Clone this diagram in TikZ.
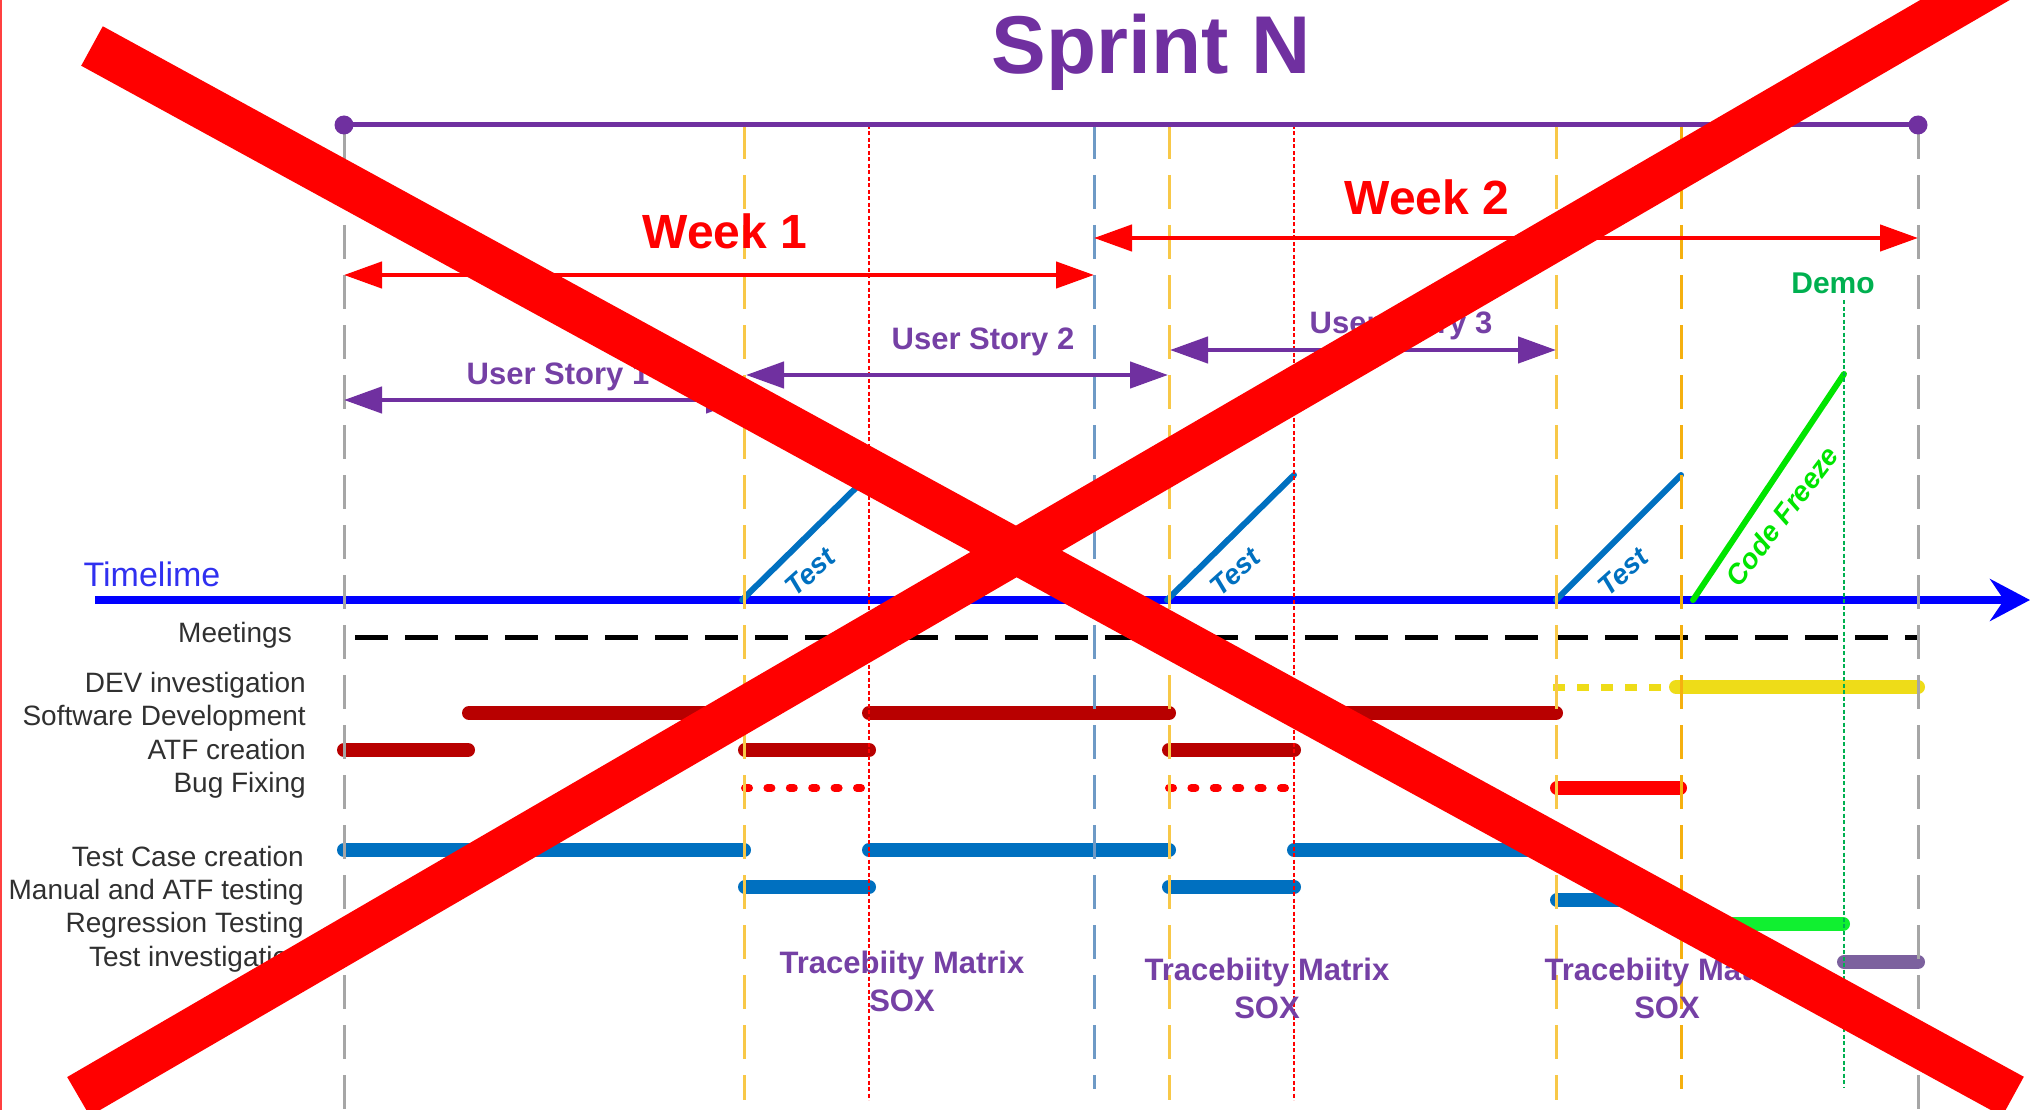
\documentclass[tikz,border=0pt]{standalone}
\usepackage{fontspec}
\setmainfont{Liberation Sans}
\usetikzlibrary{arrows.meta}
\definecolor{purp}{HTML}{7030A0}
\definecolor{lavtxt}{HTML}{7540A5}
\definecolor{grayv}{HTML}{A6A6A6}
\definecolor{yelv}{HTML}{F8C848}
\definecolor{orav}{HTML}{F5B010}
\definecolor{bluev}{HTML}{6E9AC6}
\definecolor{barred}{HTML}{B80000}
\definecolor{barblue}{HTML}{0070C0}
\definecolor{baryel}{HTML}{EEDC18}
\definecolor{bargreen}{HTML}{10F030}
\definecolor{barpurp}{HTML}{7C619E}
\definecolor{demog}{HTML}{00B050}
\definecolor{tlblue}{HTML}{3030F0}
\definecolor{lbl}{HTML}{303030}
\tikzset{
  vdash/.style={line width=3pt,dash pattern=on 34pt off 16pt},
  vdot/.style={line width=1.8pt,dash pattern=on 4pt off 2.5pt},
  bar/.style={line width=14pt,line cap=round},
  bigarrow/.style={line width=4.5pt,{Triangle[length=38pt,width=26pt]}-{Triangle[length=38pt,width=26pt]}},
  rowlabel/.style={anchor=mid east,inner sep=0pt,text=lbl,font=\fontsize{28}{30}\selectfont},
  story/.style={inner sep=0pt,text=lavtxt,font=\bfseries\fontsize{31}{33}\selectfont},
  weektxt/.style={inner sep=0pt,text=red,font=\bfseries\fontsize{48}{50}\selectfont},
  testtxt/.style={inner sep=0pt,text=barblue,rotate=42,font=\bfseries\itshape\fontsize{28}{30}\selectfont},
  slant/.style={line width=6pt,line cap=round},
  cross/.style={line width=45pt,red},
}
\begin{document}
\begin{tikzpicture}[x=1pt,y=-1pt]
\useasboundingbox (0,0) rectangle (2043,1110);
\clip (0,0) rectangle (2043,1110);
% named columns
\coordinate (gL) at (344,125);   \coordinate (gLb) at (344,1110);
\coordinate (y1) at (744,125);   \coordinate (y1b) at (744,1100);
\coordinate (r1) at (869,125);   \coordinate (r1b) at (869,1100);
\coordinate (bm) at (1094,125);  \coordinate (bmb) at (1094,1089);
\coordinate (y2) at (1169,125);  \coordinate (y2b) at (1169,1100);
\coordinate (r2) at (1294,125);  \coordinate (r2b) at (1294,1100);
\coordinate (y3) at (1556,125);  \coordinate (y3b) at (1556,1100);
\coordinate (o3) at (1681,125);  \coordinate (o3b) at (1681,1089);
\coordinate (dm) at (1844,300);  \coordinate (dmb) at (1844,1087);
\coordinate (gR) at (1918,125);  \coordinate (gRb) at (1918,1110);
% left page edge
\draw[line width=2pt,red!75] (1,0) -- (1,1110);
% timeline
\coordinate (tlS) at (95,600); \coordinate (tlE) at (2030,600);
\draw[line width=8pt,blue,-{Stealth[length=40pt,width=42pt,inset=14pt]}] (tlS) -- (tlE);
% slanted lines
\coordinate (t1a) at (742,600);  \coordinate (t1b) at (869,475);
\coordinate (t2a) at (1167,600); \coordinate (t2b) at (1294,475);
\coordinate (t3a) at (1556,600); \coordinate (t3b) at (1681,475);
\coordinate (cfa) at (1693,600); \coordinate (cfb) at (1844,374);
\draw[slant,barblue] (t1a) -- (t1b);
\draw[slant,barblue] (t2a) -- (t2b);
\draw[slant,barblue] (t3a) -- (t3b);
\draw[slant,green!90!black] (cfa) -- (cfb);
% meetings
\coordinate (mS) at (355,637.5); \coordinate (mE) at (1918,637.5);
\draw[line width=5.5pt,black,dash pattern=on 33pt off 17pt] (mS) -- (mE);
% bars
\draw[bar,barred] (469,713) -- (744,713);
\draw[bar,barred] (869,713) -- (1169,713);
\draw[bar,barred] (1294,713) -- (1556,713);
\draw[bar,barred] (344,750) -- (468,750);
\draw[bar,barred] (745,750) -- (869,750);
\draw[bar,barred] (1169,750) -- (1294,750);
\draw[line width=8pt,red,line cap=round,dash pattern=on 4pt off 18.4pt] (745,788) -- (868,788);
\draw[line width=8pt,red,line cap=round,dash pattern=on 4pt off 18.4pt] (1169,788) -- (1292,788);
\draw[bar,red] (1557,788) -- (1680,788);
\draw[line width=7pt,baryel,dash pattern=on 12pt off 12pt] (1553,687) -- (1672,687);
\draw[bar,baryel] (1676,687) -- (1918,687);
\draw[bar,barblue] (344,850) -- (744,850);
\draw[bar,barblue] (869,850) -- (1169,850);
\draw[bar,barblue] (1294,850) -- (1556,850);
\draw[bar,barblue] (745,887) -- (869,887);
\draw[bar,barblue] (1169,887) -- (1294,887);
\draw[bar,barblue] (1557,900) -- (1680,900);
\draw[bar,bargreen] (1681,924) -- (1843,924);
\draw[bar,barpurp] (1844,962) -- (1918,962);
% verticals
\draw[vdash,grayv] (gL) -- (gLb);
\draw[vdash,yelv] (y1) -- (y1b);
\draw[vdot,red] (r1) -- (r1b);
\draw[vdash,bluev] (bm) -- (bmb);
\draw[vdash,yelv] (y2) -- (y2b);
\draw[vdot,red] (r2) -- (r2b);
\draw[vdash,yelv] (y3) -- (y3b);
\draw[vdash,orav] (o3) -- (o3b);
\draw[vdot,demog] (dm) -- (dmb);
\draw[vdash,grayv] (gR) -- (gRb);
% top line
\draw[line width=5pt,purp] (gL) -- (gR);
\fill[purp] (gL) circle (9.5pt);
\fill[purp] (gR) circle (9.5pt);
% arrows
\coordinate (w1a) at (344,275); \coordinate (w1b) at (1094,275);
\coordinate (w2a) at (1094,238); \coordinate (w2b) at (1918,238);
\coordinate (u1a) at (344,400); \coordinate (u1b) at (744,400);
\coordinate (u2a) at (746,375); \coordinate (u2b) at (1168,375);
\coordinate (u3a) at (1170,350); \coordinate (u3b) at (1556,350);
\draw[bigarrow,red] (w1a) -- (w1b);
\draw[bigarrow,red] (w2a) -- (w2b);
\draw[bigarrow,purp] (u1a) -- (u1b);
\draw[bigarrow,purp] (u2a) -- (u2b);
\draw[bigarrow,purp] (u3a) -- (u3b);
% texts
\node (title) [inner sep=0pt,text=purp,font=\bfseries\fontsize{82}{84}\selectfont] at (1151,52) {Sprint N};
\node (week1) [weektxt] at (725,231) {Week 1};
\node (week2) [weektxt] at (1427,197) {Week 2};
\node (us1) [story] at (558,377) {User Story 1};
\node (us2) [story] at (983,342) {User Story 2};
\node (us3) [story] at (1401,326) {User Story 3};
\node (demo) [inner sep=0pt,text=demog,font=\bfseries\fontsize{30}{32}\selectfont] at (1833,283) {Demo};
\node (tlt) [inner sep=0pt,text=tlblue,font=\fontsize{34}{36}\selectfont] at (152,574) {Timelime};
\node (tt1) [testtxt] at (810,572) {Test};
\node (tt2) [testtxt] at (1235,572) {Test};
\node (tt3) [testtxt] at (1623,572) {Test};
\node (cft) [inner sep=0pt,text=green!90!black,rotate=52.7,font=\bfseries\itshape\fontsize{28}{30}\selectfont] at (1782,516) {Code Freeze};
\node (l1) [rowlabel] at (292,640) {Meetings};
\node (l2) [rowlabel] at (306,690) {DEV investigation};
\node (l3) [rowlabel] at (306,723) {Software Development};
\node (l4) [rowlabel] at (306,757) {ATF creation};
\node (l5) [rowlabel] at (306,790) {Bug Fixing};
\node (l6) [rowlabel] at (304,864) {Test Case creation};
\node (l7) [rowlabel] at (304,897) {Manual and ATF testing};
\node (l8) [rowlabel] at (304,930) {Regression Testing};
\node (l9) [rowlabel] at (304,964) {Test investigation};
\node (tr1) [story] at (902,965) {Tracebiity Matrix};
\node (sx1) [story] at (902,1001) {SOX};
\node (tr2) [story] at (1267,972) {Tracebiity Matrix};
\node (sx2) [story] at (1267,1008) {SOX};
\node (tr3) [story] at (1667,972) {Tracebiity Matrix};
\node (sx3) [story] at (1667,1008) {SOX};
% big cross
\coordinate (xa) at (92,46); \coordinate (xb) at (2013,1096.5);
\coordinate (xc) at (78.5,1096.5); \coordinate (xd) at (2051,-50);
\draw[cross] (xa) -- (xb);
\draw[cross] (xc) -- (xd);
\end{tikzpicture}
\end{document}
